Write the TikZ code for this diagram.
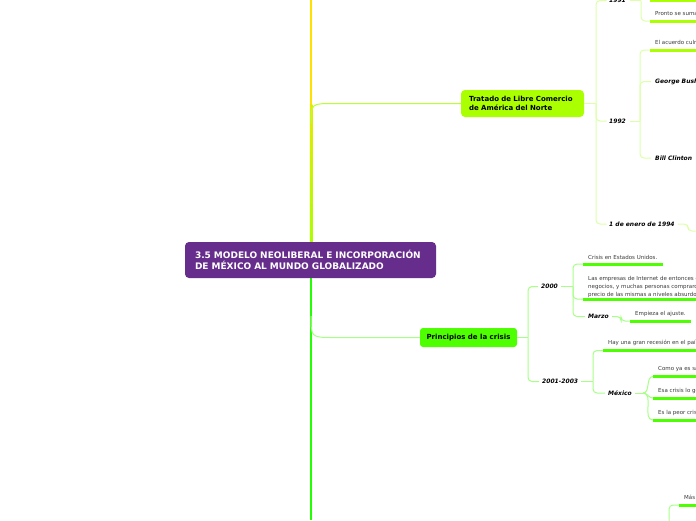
\documentclass[tikz,border=0pt]{standalone}
\usepackage{fontspec}
\setmainfont{DejaVu Sans}
\usetikzlibrary{positioning, calc}
\definecolor{mmPurple}{HTML}{662D8C}
\definecolor{mmYellow}{HTML}{FFE000}
\definecolor{mmLime}{HTML}{AAFF00}
\definecolor{mmLimeTrunk}{HTML}{A8FF00}
\definecolor{mmLimePale}{HTML}{DDFFAA}
\definecolor{mmGreen}{HTML}{4DFF00}
\definecolor{mmGreenPale}{HTML}{A8FF88}
\definecolor{mmTrunk}{HTML}{22FF00}
\definecolor{mmText}{HTML}{3A3A3A}
\tikzset{
  rootbox/.style   = {rectangle, rounded corners=4pt, fill=mmPurple, text=white,
                      font=\fontsize{9}{11}\selectfont\bfseries, align=left,
                      minimum width=251pt, minimum height=36pt, text width=231pt,
                      inner xsep=10pt},
  mainbox/.style   = {rectangle, rounded corners=4pt, inner xsep=0pt, inner ysep=0pt},
  yearlbl/.style   = {anchor=west, inner sep=0pt, font=\fontsize{6}{7}\selectfont\bfseries\itshape},
  notelbl/.style   = {anchor=west, inner sep=0pt, text=mmText, align=left,
                      font=\fontsize{5.5}{8}\selectfont},
  linkA/.style     = {mmLimePale, line width=1pt, rounded corners=4pt},
  linkB/.style     = {mmGreenPale, line width=1pt, rounded corners=4pt},
  underA/.style    = {mmLime, line width=3pt},
  underB/.style    = {mmGreen, line width=3pt},
}

\begin{document}
\begin{tikzpicture}[x=1pt, y=-1pt]
  \useasboundingbox (0,0) rectangle (696,520);
  \fill[white] (0,0) rectangle (696,520);
  \clip (0,0) rectangle (696,520);

  % trunk
  \coordinate (trunkTop) at (311,0);
  \coordinate (trunkBot) at (311,520);
  \draw[mmYellow, line width=2.5pt] (trunkTop) -- (311,104);
  \shade[top color=mmYellow!70!mmLime, bottom color=mmLimeTrunk] (309.75,104) rectangle (312.25,250);
  \draw[mmTrunk, line width=2.5pt] (311,270) -- (trunkBot);

  \node[rootbox] (root) at (310.5,260)
    {3.5 MODELO NEOLIBERAL E INCORPORACIÓN\\DE MÉXICO AL MUNDO GLOBALIZADO};

  \node[mainbox, fill=mmLime, minimum width=123pt, minimum height=27pt,
        text width=107pt, align=left, font=\fontsize{7}{9}\selectfont\bfseries]
    (nafta) at (522.5,103.5) {Tratado de Libre Comercio\\de América del Norte};
  \node[mainbox, fill=mmGreen, minimum width=97pt, minimum height=19pt,
        rounded corners=3pt, font=\fontsize{7}{8}\selectfont\bfseries]
    (crisis) at (468.5,337.5) {Principios de la crisis};

  \draw[mmLime!70!mmLimePale, line width=1pt] (311,124) .. controls (311,103.5) .. (334,103.5) -- (nafta.west);
  \draw[mmGreenPale, line width=1pt] (311,316) .. controls (311,337.5) .. (334,337.5) -- (crisis.west);

  % Tratado
  \coordinate (jA) at (596,103.5);
  \draw[linkA] (nafta.east) -- (jA);
  \node[yearlbl] (y1991) at (609,0.5) {1991};
  \node[yearlbl] (y1992) at (609,121) {1992};
  \node[yearlbl] (y1994) at (609,224) {1 de enero de 1994};
  \draw[linkA, shorten >=2.5pt] (jA) |- (y1991.west);
  \draw[linkA, shorten >=2.5pt] (jA) |- (y1992.west);
  \draw[linkA, shorten >=2.5pt] (jA) |- (y1994.west);

  \coordinate (j1991) at (641,0.5);
  \coordinate (u1991a) at (650,0);
  \coordinate (u1991b) at (650,21);
  \draw[linkA, shorten <=4pt] (y1991.east) -- (j1991);
  \draw[linkA] (j1991) |- (u1991b);
  \node[notelbl] (n1991b) at (655,13.5) {Pronto se suman};
  \draw[underA] (u1991a) -- (700,0);
  \draw[underA] (u1991b) -- (700,21);

  \coordinate (j1992) at (640,121);
  \coordinate (u1992a) at (650,50);
  \draw[linkA, shorten <=4pt] (y1992.east) -- (j1992);
  \node[notelbl] (n1992a) at (655,42.5) {El acuerdo culmina};
  \node[yearlbl] (bush) at (655,81.5) {George Bush};
  \node[yearlbl] (clinton) at (655,158) {Bill Clinton};
  \draw[linkA] (j1992) |- (u1992a);
  \draw[linkA, shorten >=4pt] (j1992) |- (bush.west);
  \draw[linkA, shorten >=4pt] (j1992) |- (clinton.west);
  \draw[underA] (u1992a) -- (700,50);
  \draw[linkA, shorten <=4pt] (clinton.east) -- (700,158);

  \coordinate (j1994) at (688,224);
  \draw[linkA, shorten <=3pt] (y1994.east) -- (j1994) |- (700,231);

  % Principios de la crisis
  \coordinate (jB) at (528,337.5);
  \draw[linkB] (crisis.east) -- (jB);
  \node[yearlbl] (y2000) at (541,286.5) {2000};
  \node[yearlbl] (y2001) at (542,381.5) {2001-2003};
  \draw[linkB, shorten >=3pt] (jB) |- (y2000.west);
  \draw[linkB, shorten >=3pt] (jB) |- (y2001.west);

  \coordinate (j2000) at (573,286.5);
  \coordinate (u2000a) at (583,264);
  \coordinate (u2000b) at (583,299);
  \draw[linkB, shorten <=3pt] (y2000.east) -- (j2000);
  \node[notelbl] (n2000a) at (588,257) {Crisis en Estados Unidos.};
  \node[notelbl] (n2000b) at (588,287)
    {Las empresas de Internet de entonces eran\\negocios, y muchas personas compraron\\precio de las mismas a niveles absurdos};
  \node[yearlbl] (marzo) at (588,316.5) {Marzo};
  \draw[linkB] (j2000) |- (u2000a);
  \draw[linkB] (j2000) |- (u2000b);
  \draw[linkB, shorten >=3pt] (j2000) |- (marzo.west);
  \draw[underB] (u2000a) -- (u2000a -| n2000a.east) -- ++(5,0);
  \draw[underB] (u2000b) -- (700,299);

  \coordinate (jMarzo) at (621,316.5);
  \coordinate (uMarzo) at (630,321);
  \node[notelbl] (nMarzo) at (635,313.5) {Empieza el ajuste.};
  \draw[linkB, shorten <=3pt] (marzo.east) -- (jMarzo) |- (uMarzo);
  \draw[underB] (uMarzo) -- (uMarzo -| nMarzo.east) -- ++(5,0);

  \coordinate (j2001) at (593,381.5);
  \coordinate (u2001a) at (603,350.5);
  \draw[linkB, shorten <=3pt] (y2001.east) -- (j2001);
  \node[notelbl] (n2001a) at (608,343) {Hay una gran recesión en el país};
  \node[yearlbl] (mexico) at (608,393) {México};
  \draw[linkB] (j2001) |- (u2001a);
  \draw[linkB, shorten >=3pt] (j2001) |- (mexico.west);
  \draw[underB] (u2001a) -- (700,350.5);

  \coordinate (jMex) at (643,393);
  \coordinate (uMexA) at (653,376.5);
  \coordinate (uMexB) at (653,398);
  \coordinate (uMexC) at (653,420);
  \draw[linkB, shorten <=3pt] (mexico.east) -- (jMex);
  \node[notelbl] (nMexA) at (658,369) {Como ya es sabido};
  \node[notelbl] (nMexB) at (658,391) {Esa crisis lo golpea};
  \node[notelbl] (nMexC) at (658,413) {Es la peor crisis};
  \draw[linkB] (jMex) to[out=0, in=180] (uMexA);
  \draw[linkB] (jMex) to[out=0, in=180] (uMexB);
  \draw[linkB] (jMex) to[out=0, in=180] (uMexC);
  \draw[underB] (uMexA) -- (700,376.5);
  \draw[underB] (uMexB) -- (700,398);
  \draw[underB] (uMexC) -- (700,420);

  % Más
  \coordinate (jMas) at (669,525);
  \coordinate (uMas) at (679,505);
  \node[notelbl] (nMas) at (684,497.5) {Más};
  \draw[linkB] (jMas) |- (uMas);
  \draw[underB] (uMas) -- (700,505);
\end{tikzpicture}
\end{document}
